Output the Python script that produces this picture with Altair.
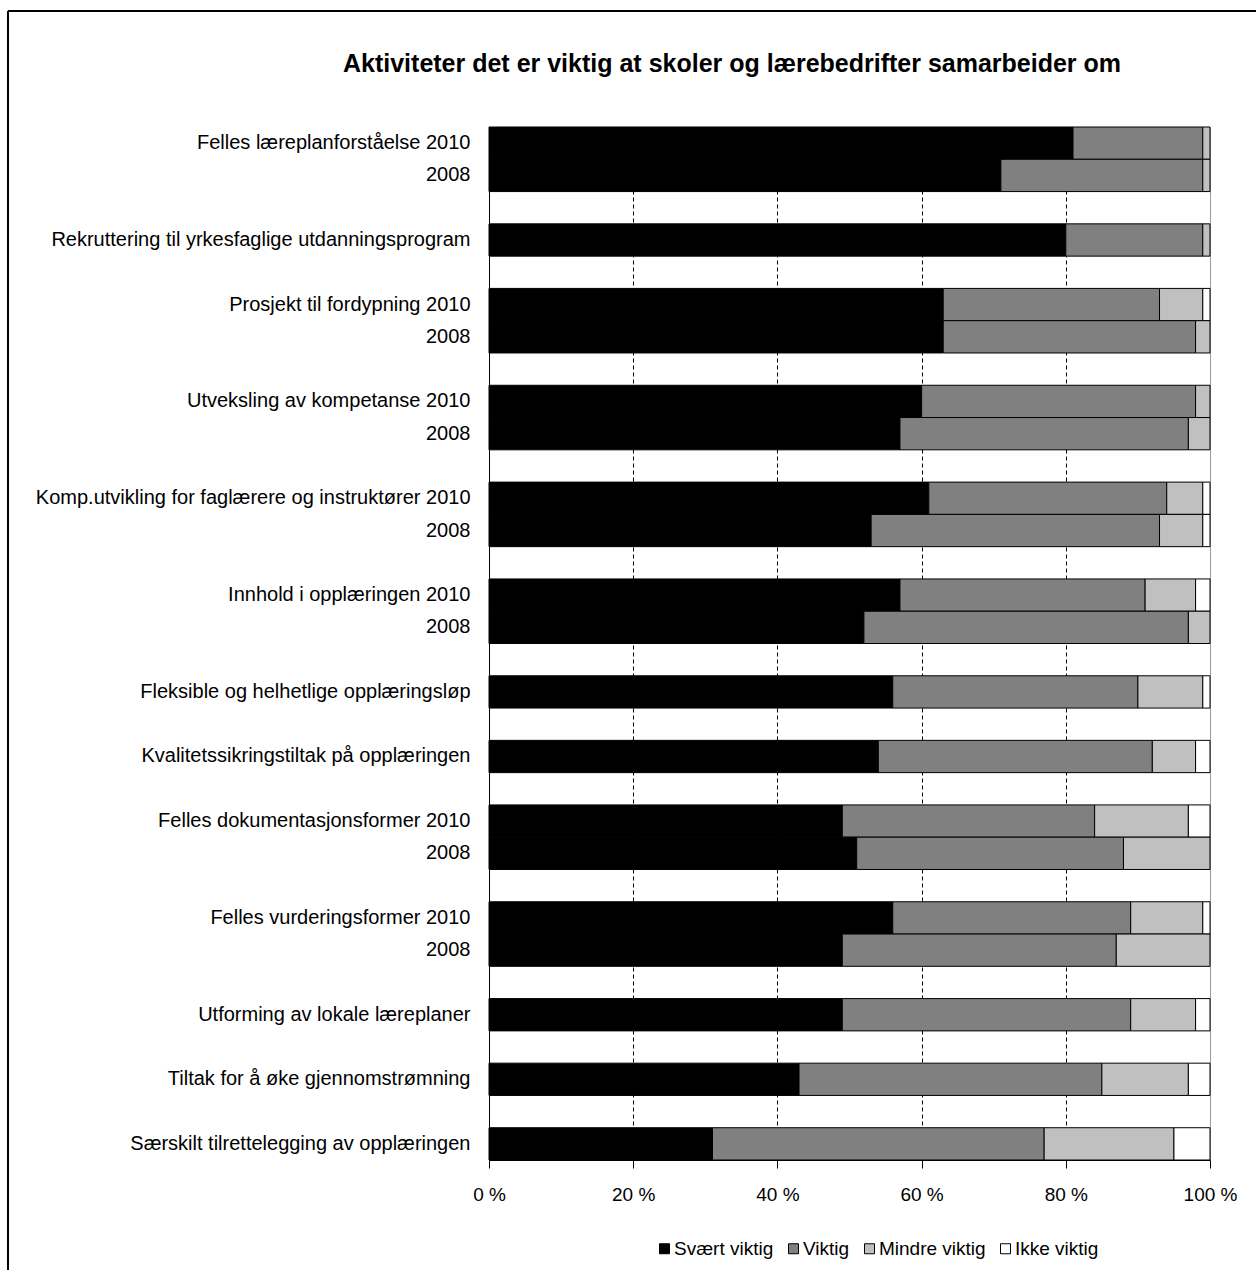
import altair as alt
import pandas as pd

# Row layout of the chart (top to bottom); "" marks an empty spacer row
row_labels = [
    "Felles læreplanforståelse 2010", "2008", "",
    "Rekruttering til yrkesfaglige utdanningsprogram", "",
    "Prosjekt til fordypning 2010", "2008", "",
    "Utveksling av kompetanse 2010", "2008", "",
    "Komp.utvikling for faglærere og instruktører 2010", "2008", "",
    "Innhold i opplæringen 2010", "2008", "",
    "Fleksible og helhetlige opplæringsløp", "",
    "Kvalitetssikringstiltak på opplæringen", "",
    "Felles dokumentasjonsformer 2010", "2008", "",
    "Felles vurderingsformer 2010", "2008", "",
    "Utforming av lokale læreplaner", "",
    "Tiltak for å øke gjennomstrømning", "",
    "Særskilt tilrettelegging av opplæringen",
]

# Shares (%) for each non-empty row, in the same order as above
svaert_viktig = [81, 71, 80, 63, 63, 60, 57, 61, 53, 57, 52, 56, 54, 49, 51, 56, 49, 49, 43, 31]
viktig = [18, 28, 19, 30, 35, 38, 40, 33, 40, 34, 45, 34, 38, 35, 37, 33, 38, 40, 42, 46]
mindre_viktig = [1, 1, 1, 6, 2, 2, 3, 5, 6, 7, 3, 9, 6, 13, 12, 10, 13, 9, 12, 18]
ikke_viktig = [0, 0, 0, 1, 0, 0, 0, 1, 1, 2, 0, 1, 2, 3, 0, 1, 0, 2, 3, 5]

categories = ["Svært viktig", "Viktig", "Mindre viktig", "Ikke viktig"]
colors = ["#000000", "#808080", "#c0c0c0", "#ffffff"]
x_ticks = [0, 20, 40, 60, 80, 100]
title_text = "Aktiviteter det er viktig at skoler og lærebedrifter samarbeider om"

bar_rows = [i for i, lab in enumerate(row_labels) if lab != ""]
records = []
for k, row in enumerate(bar_rows):
    for c, (cat, vals) in enumerate(zip(categories, [svaert_viktig, viktig, mindre_viktig, ikke_viktig])):
        if vals[k] > 0:
            records.append({"row": row, "kategori": cat, "orden": c, "andel": vals[k]})
df = pd.DataFrame(records)
single = pd.DataFrame({"tekst": [title_text]})

label_array = "[" + ",".join("'" + s + "'" for s in row_labels) + "]"
FONT = "Liberation Sans"
FS = 19

bars = alt.Chart(df).mark_bar(stroke="black", strokeWidth=1).encode(
    y=alt.Y(
        "row:O",
        scale=alt.Scale(domain=list(range(len(row_labels))), paddingInner=0, paddingOuter=0),
        axis=alt.Axis(
            title=None,
            labelExpr=label_array + "[datum.value]",
            labelLimit=0,
            ticks=False,
            domain=True,
            domainColor="black",
            domainWidth=1,
            labelPadding=19,
            labelFontSize=20,
            labelColor="black",
            labelFont=FONT,
            grid=False,
        ),
    ),
    x=alt.X(
        "andel:Q",
        stack="zero",
        scale=alt.Scale(domain=[0, 100], nice=False),
        axis=alt.Axis(
            title=None,
            values=x_ticks,
            labelExpr="datum.value + ' %'",
            labelFlush=False,
            tickSize=8,
            tickColor="black",
            domainColor="black",
            labelPadding=17,
            labelFontSize=FS,
            labelColor="black",
            labelFont=FONT,
            grid=True,
            gridColor="black",
            gridDash=[4, 3],
            gridOpacity={"condition": {"test": "datum.value == 0 || datum.value == 100", "value": 0}, "value": 1},
        ),
    ),
    color=alt.Color(
        "kategori:N",
        scale=alt.Scale(domain=categories, range=colors),
        legend=alt.Legend(
            title=None,
            orient="none",
            direction="horizontal",
            legendX=166,
            legendY=1112,
            symbolType="square",
            symbolSize=100,
            symbolStrokeColor="black",
            symbolStrokeWidth=1,
            symbolOpacity=1,
            labelFontSize=FS,
            labelFont=FONT,
            labelColor="black",
            labelOffset=0,
            columnPadding=10,
        ),
    ),
    order=alt.Order("orden:Q"),
)

# Chart heading, centred over the whole figure
heading = alt.Chart(single).mark_text(
    font=FONT, fontSize=25, fontWeight="bold", color="black",
    align="center", baseline="middle",
).encode(text="tekst:N", x=alt.value(243), y=alt.value(-63))

# Outer frame around the figure (left and top edges)
frame_v = alt.Chart(single).mark_rule(color="black", strokeWidth=2).encode(
    x=alt.value(-481), x2=alt.value(-481), y=alt.value(-116), y2=alt.value(1200)
)
frame_h = alt.Chart(single).mark_rule(color="black", strokeWidth=2).encode(
    x=alt.value(-481), x2=alt.value(767), y=alt.value(-116), y2=alt.value(-116)
)

chart = alt.layer(bars, heading, frame_v, frame_h).properties(
    width=721,
    height=1033,
    autosize=alt.AutoSizeParams(type="none"),
    padding={"left": 489, "top": 127, "right": 48, "bottom": 110},
).configure_view(stroke="#9a9a9a", strokeWidth=1)

chart.save("out.html", embed_options={"renderer": "svg", "actions": False})
